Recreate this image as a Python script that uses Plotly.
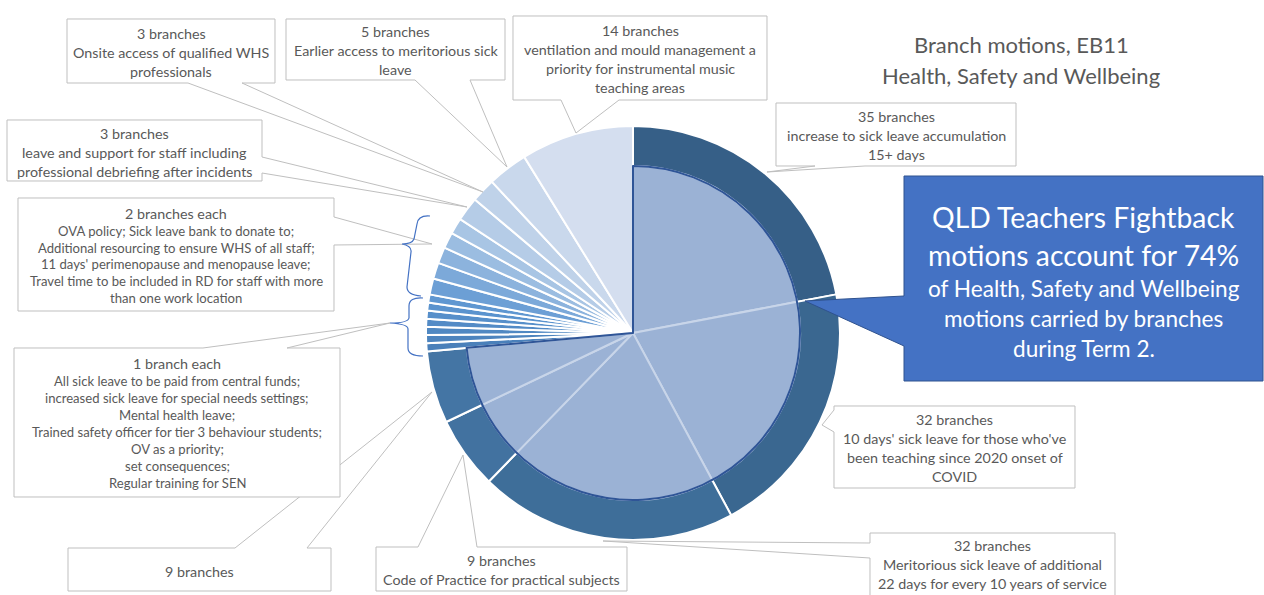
import plotly.graph_objects as go

W, H = 1264, 595

# ---------------- data ----------------
motion_labels = [
    "increase to sick leave accumulation 15+ days",
    "10 days' sick leave for those who've been teaching since 2020 onset of COVID",
    "Meritorious sick leave of additional 22 days for every 10 years of service",
    "Code of Practice for practical subjects",
    "9 branches (unlabelled motion)",
    "All sick leave to be paid from central funds",
    "increased sick leave for special needs settings",
    "Mental health leave",
    "Trained safety officer for tier 3 behaviour students",
    "OV as a priority",
    "set consequences",
    "Regular training for SEN",
    "OVA policy",
    "Sick leave bank to donate to",
    "Additional resourcing to ensure WHS of all staff",
    "11 days' perimenopause and menopause leave",
    "Travel time to be included in RD for staff with more than one work location",
    "leave and support for staff including professional debriefing after incidents",
    "Onsite access of qualified WHS professionals",
    "Earlier access to meritorious sick leave",
    "ventilation and mould management a priority for instrumental music teaching areas",
]
branch_counts = [35, 32, 32, 9, 9, 1, 1, 1, 1, 1, 1, 1, 2, 2, 2, 2, 2, 3, 3, 5, 14]
is_fightback = [True] * 5 + [False] * 16

fightback_labels = [l for l, f in zip(motion_labels, is_fightback) if f]
fightback_counts = [v for v, f in zip(branch_counts, is_fightback) if f]
other_total = sum(v for v, f in zip(branch_counts, is_fightback) if not f)
fightback_total = sum(fightback_counts)

title_lines = ["Branch motions, EB11", "Health, Safety and Wellbeing"]
headline_lines = ["QLD Teachers Fightback", "motions account for 74%"]
subline_lines = ["of Health, Safety and Wellbeing", "motions carried by branches", "during Term 2."]

callout_texts = {
    "onsite": ["3 branches", "Onsite access of qualified WHS", "professionals"],
    "earlier": ["5 branches", "Earlier access to meritorious sick", "leave"],
    "vent": ["14 branches", "ventilation and mould management a", "priority for instrumental music", "teaching areas"],
    "acc35": ["35 branches", "increase to sick leave accumulation", "15+ days"],
    "leave": ["3 branches", "leave and support for staff including", "professional debriefing after incidents"],
    "two_each": ["2 branches each", "OVA policy; Sick leave bank to donate to;",
                 "Additional resourcing to ensure WHS of all staff;",
                 "11 days' perimenopause and menopause leave;",
                 "Travel time to be included in RD for staff with more", "than one work location"],
    "nine": ["9 branches"],
    "one_each": ["1 branch each", "All sick leave to be paid from central funds;",
                 "increased sick leave for special needs settings;", "Mental health leave;",
                 "Trained safety officer for tier 3 behaviour students;", "OV as a priority;",
                 "set consequences;", "Regular training for SEN"],
    "cop": ["9 branches", "Code of Practice for practical subjects"],
    "merit": ["32 branches", "Meritorious sick leave of additional", "22 days for every 10 years of service"],
    "tendays": ["32 branches", "10 days' sick leave for those who've", "been teaching since 2020 onset of", "COVID"],
}

# ---------------- styling / layout ----------------
FONT = "Lato"
GRAY_TXT = "#595959"
BOX_LINE = "#BFBFBF"

ring_colors = [
    "#365F87", "#3A6790", "#3E6E99", "#4272A0", "#4475A4",
    "#4A80BA", "#4D84BE", "#5088C2", "#538BC6", "#568FCA", "#5A93CE", "#5F97D1",
    "#6C9FD5", "#7CA9D9", "#8CB3DD", "#9BBDE1", "#A8C5E4",
    "#B5CCE7", "#BFD2E9", "#C9D8EC", "#D4DEEF",
]
INNER_FILL = "#9BB2D5"
INNER_DIV = "#C8D5E9"
INNER_EDGE = "#2F5597"

CX, CY = 633, 333
R_OUT, R_IN = 207, 167
FS_MAIN, FS_SMALL = 14.3, 13.1


def px(x):
    return x / W


def py(y):
    return 1 - y / H


def dom(r):
    return dict(x=[px(CX - r), px(CX + r)], y=[py(CY + r), py(CY - r)])


fig = go.Figure()

fig.add_trace(go.Pie(
    values=branch_counts, labels=motion_labels, sort=False, direction="clockwise",
    rotation=0, textinfo="none", showlegend=False, domain=dom(R_OUT),
    marker=dict(colors=ring_colors, line=dict(color="white", width=2)),
    hovertemplate="%{label}<br>%{value} branches<extra></extra>",
))

fig.add_trace(go.Pie(
    values=fightback_counts + [other_total], labels=[l + " " for l in fightback_labels] + ["Other motions"],
    sort=False, direction="clockwise", rotation=0, textinfo="none", showlegend=False,
    domain=dom(R_IN),
    marker=dict(colors=[INNER_FILL] * len(fightback_counts) + ["rgba(0,0,0,0)"],
                line=dict(color=[INNER_DIV] * len(fightback_counts) + ["rgba(0,0,0,0)"],
                          width=[2] * len(fightback_counts) + [0])),
    hoverinfo="skip",
))

fig.add_trace(go.Pie(
    values=[fightback_total, other_total], labels=["QLD Teachers Fightback motions", "Other motions "],
    sort=False, direction="clockwise", rotation=0, textinfo="none", showlegend=False,
    domain=dom(R_IN),
    marker=dict(colors=["rgba(0,0,0,0)", "rgba(0,0,0,0)"],
                line=dict(color=[INNER_EDGE, "rgba(0,0,0,0)"], width=[2, 0])),
    hoverinfo="skip",
))

# callout geometry: box (x0,y0,x1,y1), pointer side, base a,b, tip, font size, line ys
callout_geom = {
    "nine": dict(box=(68, 548, 331, 591), side="top", ab=(235, 307), tip=(432, 392), fs=FS_MAIN, ys=[571]),
    "onsite": dict(box=(67, 19, 275, 83), side="bottom", ab=(188, 242), tip=(483, 192), fs=FS_MAIN, ys=[33, 52, 71]),
    "earlier": dict(box=(286, 19, 505, 80), side="bottom", ab=(415, 470), tip=(507, 167), fs=FS_MAIN, ys=[31, 50, 69]),
    "vent": dict(box=(513, 16, 767, 100), side="bottom", ab=(561, 619), tip=(576, 133), fs=FS_MAIN,
                 ys=[30, 49, 68, 87]),
    "acc35": dict(box=(776, 103, 1016, 166), side="bottom", ab=(815, 865), tip=(767, 172), fs=FS_MAIN,
                  ys=[117, 136, 155]),
    "leave": dict(box=(7, 120, 262, 181), side="right", ab=(157, 173), tip=(467, 207), fs=FS_MAIN,
                  ys=[133, 152, 171]),
    "two_each": dict(box=(18, 198, 334, 311), side="right", ab=(217, 245), tip=(432, 244), fs=FS_SMALL,
                     ys=[213, 231, 247.5, 264, 281, 298], first_fs=FS_MAIN),
    "one_each": dict(box=(14, 348, 340, 497), side="top", ab=(203, 287), tip=(390, 323), fs=FS_SMALL,
                     ys=[363, 381, 398, 415, 432, 449, 466, 483], first_fs=FS_MAIN),
    "cop": dict(box=(376, 547, 627, 591), side="top", ab=(418, 477), tip=(463, 455), fs=FS_MAIN, ys=[560, 579]),
    "merit": dict(box=(870, 533, 1115, 600), side="left", ab=(543, 558), tip=(603, 541), fs=FS_MAIN,
                  ys=[545, 564, 583]),
    "tendays": dict(box=(834, 406, 1075, 488), side="left", ab=(410, 432), tip=(822, 425), fs=FS_MAIN,
                    ys=[419, 438, 457, 476]),
}


def callout_path(box, side, ab, tip):
    x0, y0, x1, y1 = box
    a, b = ab
    tx, ty = tip
    if side == "bottom":
        pts = [(x0, y0), (x1, y0), (x1, y1), (b, y1), (tx, ty), (a, y1), (x0, y1)]
    elif side == "top":
        pts = [(x0, y0), (a, y0), (tx, ty), (b, y0), (x1, y0), (x1, y1), (x0, y1)]
    elif side == "right":
        pts = [(x0, y0), (x1, y0), (x1, a), (tx, ty), (x1, b), (x1, y1), (x0, y1)]
    else:
        pts = [(x0, y0), (x1, y0), (x1, y1), (x0, y1), (x0, b), (tx, ty), (x0, a)]
    return "M " + " L ".join(f"{px(x):.5f},{py(y):.5f}" for x, y in pts) + " Z"


shapes = []
annotations = []

for key, g in callout_geom.items():
    shapes.append(dict(type="path", xref="paper", yref="paper",
                       path=callout_path(g["box"], g["side"], g["ab"], g["tip"]),
                       fillcolor="white", line=dict(color=BOX_LINE, width=1), layer="above"))
    cx = (g["box"][0] + g["box"][2]) / 2
    for i, (txt, yy) in enumerate(zip(callout_texts[key], g["ys"])):
        fs = g.get("first_fs", g["fs"]) if i == 0 else g["fs"]
        annotations.append(dict(x=px(cx), y=py(yy), xref="paper", yref="paper", text=txt,
                                showarrow=False, xanchor="center", yanchor="middle",
                                font=dict(family=FONT, size=fs, color=GRAY_TXT)))

# big blue callout
bx0, by0, bx1, by1 = 904, 176, 1263, 381
shapes.append(dict(type="path", xref="paper", yref="paper",
                   path=callout_path((bx0, by0, bx1, by1), "left", (296, 346), (805, 301)),
                   fillcolor="#4472C4", line=dict(color="#2F528F", width=1), layer="above"))
bcx = (bx0 + bx1) / 2
for txt, yy in zip(headline_lines, [217, 255]):
    annotations.append(dict(x=px(bcx), y=py(yy), xref="paper", yref="paper", text=txt, showarrow=False,
                            xanchor="center", yanchor="middle", font=dict(family=FONT, size=28.3, color="white")))
for txt, yy in zip(subline_lines, [288, 318, 348]):
    annotations.append(dict(x=px(bcx), y=py(yy), xref="paper", yref="paper", text=txt, showarrow=False,
                            xanchor="center", yanchor="middle", font=dict(family=FONT, size=22.6, color="white")))

# title
for txt, yy in zip(title_lines, [45, 75]):
    annotations.append(dict(x=px(1021), y=py(yy), xref="paper", yref="paper", text=txt, showarrow=False,
                            xanchor="center", yanchor="middle", font=dict(family=FONT, size=22, color=GRAY_TXT)))


# braces
def brace(pts_str):
    return dict(type="path", xref="paper", yref="paper", path=pts_str,
                line=dict(color="#4472C4", width=1.2), layer="above")


def P(x, y):
    return f"{px(x):.5f},{py(y):.5f}"


upper = (f"M {P(430, 216)} Q {P(418, 215)} {P(417, 224)} L {P(414, 239)} Q {P(412, 244)} {P(402, 244)} "
         f"Q {P(412, 246)} {P(411, 252)} L {P(407, 287)} Q {P(407, 295)} {P(421, 296)}")
lower = (f"M {P(423, 298)} Q {P(409, 297)} {P(409, 306)} L {P(409, 318)} Q {P(408, 323)} {P(390, 323)} "
         f"Q {P(408, 324)} {P(408, 329)} L {P(408, 348)} Q {P(408, 356)} {P(423, 356)}")
shapes.append(brace(upper))
shapes.append(brace(lower))

fig.update_layout(
    width=W, height=H, margin=dict(l=0, r=0, t=0, b=0),
    paper_bgcolor="white", plot_bgcolor="white",
    shapes=shapes, annotations=annotations, showlegend=False,
)

fig.write_html("out.html", config={"displayModeBar": False},
               post_script="document.body.style.margin='0';document.body.style.overflow='hidden';")
